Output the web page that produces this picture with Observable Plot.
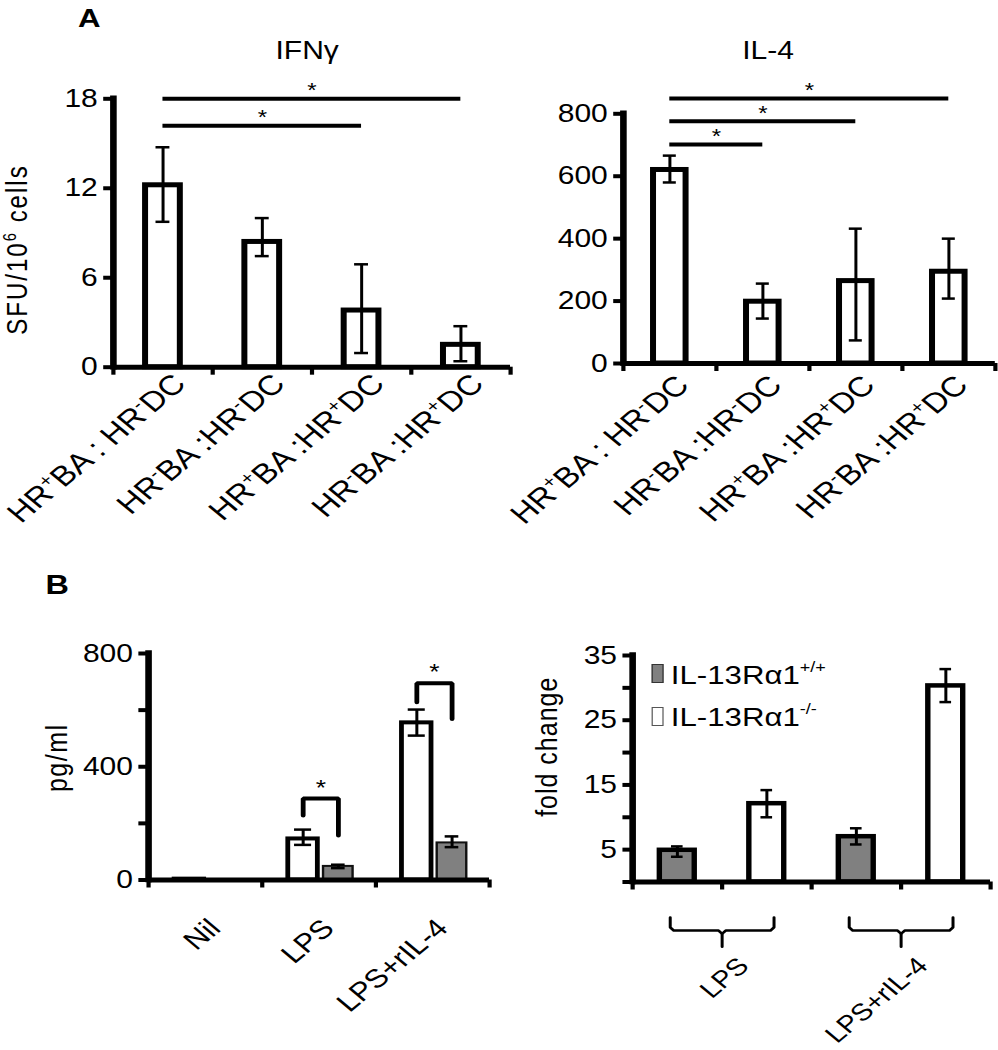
<!DOCTYPE html>
<html><head><meta charset="utf-8">
<script src="https://cdn.jsdelivr.net/npm/d3@7"></script>
<script src="https://cdn.jsdelivr.net/npm/@observablehq/plot@0.6"></script>
<style>
html,body{margin:0;padding:0;background:#fff;overflow:hidden;}
#wrap{position:relative;width:832px;height:1050px;transform:scaleX(1.2);transform-origin:0 0;font-family:'Liberation Sans',Arial,Helvetica,sans-serif;color:#000;}
.lbl{position:absolute;line-height:1;white-space:nowrap;}
.panel{position:absolute;}
.sw{position:absolute;box-sizing:border-box;}
</style></head><body><div id="wrap"></div>
<script>
// ---------- data ----------
// Panel A
const groupsA = ["HR⁺BA : HR⁻DC", "HR⁻BA :HR⁻DC", "HR⁺BA :HR⁺DC", "HR⁻BA :HR⁺DC"];
const ifngMean = [12.2, 8.4, 3.8, 1.5];
const ifngLow  = [9.75, 7.45, 0.95, 0.4];
const ifngHigh = [14.75, 10.0, 6.9, 2.75];
const ifngTicks = [0, 6, 12, 18];
const ifngSig = [{from: 0, to: 3, y: 18}, {from: 0, to: 2, y: 16.2}];

const il4Mean = [620, 198, 264, 294];
const il4Low  = [580, 144, 74, 208];
const il4High = [666, 256, 432, 400];
const il4Ticks = [0, 200, 400, 600, 800];
const il4Sig = [{from: 0, to: 3, y: 849}, {from: 0, to: 2, y: 776}, {from: 0, to: 1, y: 702}];

// Panel B (left): pg/ml
const groupsB = ["Nil", "LPS", "LPS+rIL-4"];
const koPg = [3, 145, 555];        // IL-13Rα1-/- (white)
const koPgLow = [null, 124, 510];
const koPgHigh = [null, 178, 602];
const wtPg = [0, 48, 131];         // IL-13Rα1+/+ (gray)
const wtPgLow = [null, 42, 116];
const wtPgHigh = [null, 54, 154];
const pgTicks = [0, 200, 400, 600, 800];
const pgLabeled = [0, 400, 800];
const pgBrackets = [
  {group: "LPS", top: 288, left: 228, right: 157},
  {group: "LPS+rIL-4", top: 695, left: 628, right: 569}
];

// Panel B (right): fold change
const groupsFold = ["LPS", "LPS+rIL-4"];
const wtFold = [4.9, 7.0];
const wtFoldLow = [3.9, 5.8];
const wtFoldHigh = [5.5, 8.3];
const koFold = [12.1, 30.3];
const koFoldLow = [10.0, 27.8];
const koFoldHigh = [14.2, 32.9];
const foldTicks = [0, 5, 10, 15, 20, 25, 30, 35];
const foldLabeled = [5, 15, 25, 35];
const legendLabels = ["IL-13Rα1<sup>+/+</sup>", "IL-13Rα1<sup>-/-</sup>"];

// ---------- helpers ----------
const FONT = "'Liberation Sans', Arial, Helvetica, sans-serif";
const GRAY = "#808080";
const wrap = document.getElementById("wrap");
const baseStyle = {background: "transparent", overflow: "visible", fontFamily: FONT, fontSize: "25px", color: "black"};
const SUPMAP = {"⁺": "+", "⁻": "-", "⁶": "6"};
const SPACED = {"SFU/10⁶ cells": 2, "pg/ml": 1.5, "fold change": 1};

function supify(root) {
  root.querySelectorAll("text").forEach(t => {
    const s = t.textContent;
    if (s in SPACED) t.style.letterSpacing = SPACED[s] + "px";
    if (![...s].some(c => c in SUPMAP)) return;
    const fs = parseFloat(getComputedStyle(t).fontSize) || 24;
    const segs = [];
    for (const c of s) {
      const sup = c in SUPMAP, ch = sup ? SUPMAP[c] : c;
      if (segs.length && segs[segs.length - 1].sup === sup) segs[segs.length - 1].t += ch;
      else segs.push({sup, t: ch});
    }
    t.textContent = "";
    let shifted = false;
    for (const seg of segs) {
      const ts = document.createElementNS("http://www.w3.org/2000/svg", "tspan");
      ts.textContent = seg.t;
      if (seg.sup) { ts.setAttribute("font-size", (fs * 0.62) + "px"); ts.setAttribute("dy", (-fs * 0.38) + "px"); shifted = true; }
      else if (shifted) { ts.setAttribute("dy", (fs * 0.38) + "px"); shifted = false; }
      t.appendChild(ts);
    }
  });
}
function place(svg, left, top, width) {
  const d = document.createElement("div");
  d.className = "panel";
  d.style.left = left + "px"; d.style.top = top + "px"; d.style.width = width + "px";
  d.appendChild(svg);
  wrap.appendChild(d);
  supify(svg);
}
function addText(html, {left, baseline, size, bold = false, center = false}) {
  const d = document.createElement("div");
  d.className = "lbl";
  d.innerHTML = html;
  d.style.fontSize = size + "px";
  d.style.top = (baseline - 0.8465 * size) + "px";
  d.style.left = left + "px";
  if (bold) d.style.fontWeight = "bold";
  if (center) d.style.transform = "translateX(-50%)";
  wrap.appendChild(d);
}
function axisMarks(n, yTicks, yFmt) {
  return [
    Plot.ruleY([0], {strokeWidth: 5}),
    Plot.ruleX([0], {strokeWidth: 5.5, strokeLinecap: "square"}),
    Plot.axisY({ticks: yTicks, tickFormat: yFmt, tickSize: 8, tickPadding: 5, strokeWidth: 4, fontSize: 25, label: null}),
    Plot.axisX({ticks: d3.range(n + 1), tickFormat: () => "", tickSize: 8, strokeWidth: 3.5, label: null})
  ];
}
function errMarks(rows, capHalf, sw) {
  const r = rows.filter(d => d.lo != null);
  return [
    Plot.ruleX(r, {x: "c", y1: "lo", y2: "hi", strokeWidth: sw}),
    Plot.ruleY(r, {y: "lo", x1: d => d.c - capHalf, x2: d => d.c + capHalf, strokeWidth: sw}),
    Plot.ruleY(r, {y: "hi", x1: d => d.c - capHalf, x2: d => d.c + capHalf, strokeWidth: sw})
  ];
}
function yLabel(label, dx, dy, fontSize = 25) {
  return Plot.text([label], {frameAnchor: "left", text: d => d, rotate: -90, textAnchor: "middle", lineAnchor: "middle", dx, dy, fontSize});
}

// ---------- single-series panels (A) ----------
function singlePanel(o) {
  const n = o.cats.length;
  const rows = o.cats.map((g, i) => ({g, c: i + 0.5, v: o.mean[i], lo: o.low[i], hi: o.high[i]}));
  const sig = o.sig.map(s => ({x1: s.from + 0.5, x2: s.to + 0.5, y: s.y}));
  return Plot.plot({
    width: o.width, height: o.height,
    marginLeft: o.mL, marginRight: o.mR, marginTop: o.mT, marginBottom: o.mB,
    x: {domain: [0, n]}, y: {domain: [0, d3.max(o.ticks)]},
    style: baseStyle,
    marks: [
      Plot.rect(rows, {x1: d => d.c - 0.175, x2: d => d.c + 0.175, y1: () => 0, y2: "v", fill: "white", stroke: "black", strokeWidth: 5}),
      ...errMarks(rows, 0.07, 2.5),
      ...axisMarks(n, o.ticks, d => d),
      Plot.text(o.cats, {x: (d, i) => i + 0.5, y: () => 0, text: d => d, rotate: -45, textAnchor: "end", dx: o.lblDx, dy: o.lblDy, fontSize: 28}),
      Plot.ruleY(sig, {y: "y", x1: "x1", x2: "x2", strokeWidth: 4}),
      Plot.text(sig, {x: d => (d.x1 + d.x2) / 2, y: "y", text: () => "*", dy: -8, fontSize: 20}),
      ...(o.ylabel ? [yLabel(o.ylabel, o.ylDx, o.ylDy, 24)] : [])
    ]
  });
}

const p1 = singlePanel({cats: groupsA, mean: ifngMean, low: ifngLow, high: ifngHigh, sig: ifngSig, ticks: ifngTicks,
  width: 440, height: 470, mL: 94, mR: 15, mT: 38.3, mB: 163.3, lblDx: 14, lblDy: 12,
  ylabel: "SFU/10⁶ cells", ylDx: -79.5, ylDy: 16.5});
place(p1, 0, 60, 440);

const p2 = singlePanel({cats: groupsA, mean: il4Mean, low: il4Low, high: il4High, sig: il4Sig, ticks: il4Ticks,
  width: 402, height: 470, mL: 89, mR: 3, mT: 53.3, mB: 167, lblDx: 11, lblDy: 17});
place(p2, 430, 60, 402);

// ---------- B left: grouped pg/ml ----------
{
  const n = groupsB.length;
  const OFF_KO = -0.14, OFF_WT = 0.17, HALF = 0.13;
  const ko = groupsB.map((g, i) => ({g, c: i + 0.5 + OFF_KO, v: koPg[i], lo: koPgLow[i], hi: koPgHigh[i]}));
  const wt = groupsB.map((g, i) => ({g, c: i + 0.5 + OFF_WT, v: wtPg[i], lo: wtPgLow[i], hi: wtPgHigh[i]}));
  const br = pgBrackets.flatMap(b => {
    const c = groupsB.indexOf(b.group) + 0.5, xl = c + OFF_KO, xr = c + OFF_WT;
    return [{k: b.group, x: xl, y: b.left}, {k: b.group, x: xl, y: b.top}, {k: b.group, x: xr, y: b.top}, {k: b.group, x: xr, y: b.right}];
  });
  const p3 = Plot.plot({
    width: 420, height: 450, marginLeft: 123.3, marginRight: 12.5, marginTop: 53, marginBottom: 170.5,
    x: {domain: [0, n]}, y: {domain: [0, 800]},
    style: baseStyle,
    marks: [
      Plot.rect(ko, {x1: d => d.c - HALF, x2: d => d.c + HALF, y1: () => 0, y2: "v", fill: "white", stroke: "black", strokeWidth: 4}),
      Plot.rect(wt, {x1: d => d.c - HALF, x2: d => d.c + HALF, y1: () => 0, y2: "v", fill: GRAY, stroke: "#111", strokeWidth: 2}),
      ...errMarks(ko, 0.075, 2.5),
      ...errMarks(wt, 0.06, 2.5),
      ...axisMarks(n, pgTicks, d => pgLabeled.includes(d) ? d : ""),
      Plot.line(br, {x: "x", y: "y", z: "k", strokeWidth: 4, strokeLinejoin: "miter"}),
      Plot.text(pgBrackets, {x: b => groupsB.indexOf(b.group) + 0.5 + (OFF_KO + OFF_WT) / 2, y: "top", text: () => "*", dy: -11, fontSize: 22}),
      Plot.text(groupsB, {x: (d, i) => i + 0.5, y: () => 0, text: d => d, rotate: -45, textAnchor: "end", dx: 8, dy: 44, fontSize: 26}),
      yLabel("pg/ml", -76, -9)
    ]
  });
  place(p3, 0, 600, 420);
}

// ---------- B right: fold change ----------
{
  const n = groupsFold.length * 2;
  const HALF = 0.195;
  const wt = groupsFold.map((g, i) => ({g, c: i * 2 + 0.5, v: wtFold[i], lo: wtFoldLow[i], hi: wtFoldHigh[i]}));
  const ko = groupsFold.map((g, i) => ({g, c: i * 2 + 1.5, v: koFold[i], lo: koFoldLow[i], hi: koFoldHigh[i]}));
  const braces = groupsFold.flatMap((g, i) => {
    const a = i * 2 + 0.5 - 0.08, b = i * 2 + 1.5 + 0.08, m = i * 2 + 1;
    const L = g + "L", R = g + "R";
    return [
      {k: L, x: a, y: -5.5}, {k: L, x: a, y: -7.0}, {k: L, x: a + 0.04, y: -7.5}, {k: L, x: m - 0.04, y: -7.5}, {k: L, x: m, y: -8.0}, {k: L, x: m, y: -10},
      {k: R, x: b, y: -5.5}, {k: R, x: b, y: -7.0}, {k: R, x: b - 0.04, y: -7.5}, {k: R, x: m + 0.04, y: -7.5}, {k: R, x: m, y: -8.0}
    ];
  });
  const p4 = Plot.plot({
    width: 412, height: 450, marginLeft: 106.7, marginRight: 7, marginTop: 55, marginBottom: 168.5,
    x: {domain: [0, n]}, y: {domain: [0, 35]},
    style: baseStyle,
    marks: [
      Plot.rect(wt, {x1: d => d.c - HALF, x2: d => d.c + HALF, y1: () => 0, y2: "v", fill: GRAY, stroke: "black", strokeWidth: 4.5}),
      Plot.rect(ko, {x1: d => d.c - HALF, x2: d => d.c + HALF, y1: () => 0, y2: "v", fill: "white", stroke: "black", strokeWidth: 4.5}),
      ...errMarks(wt, 0.065, 2.5),
      ...errMarks(ko, 0.065, 2.5),
      ...axisMarks(n, foldTicks, d => foldLabeled.includes(d) ? d : ""),
      Plot.line(braces, {x: "x", y: "y", z: "k", strokeWidth: 2.5}),
      Plot.text(groupsFold, {x: (d, i) => i * 2 + 1, y: () => 0, text: d => d, rotate: -45, textAnchor: "end", dx: 18, dy: 80, fontSize: 24}),
      yLabel("fold change", -71, -22)
    ]
  });
  place(p4, 420, 600, 412);
}

// ---------- titles, panel letters, legend ----------
addText("A", {left: 65, baseline: 27, size: 26, bold: true});
addText("B", {left: 38, baseline: 595, size: 27, bold: true});
addText("IFNγ", {left: 256, baseline: 59, size: 25, center: true});
addText("IL-4", {left: 640, baseline: 59, size: 25, center: true});

const legendFills = [GRAY, "white"];
const legendBorders = ["#333", "#555"];
legendLabels.forEach((lab, i) => {
  const base = 684 + i * 42.5;
  const sw = document.createElement("div");
  sw.className = "sw";
  sw.style.left = "543px"; sw.style.top = (base - 20) + "px";
  sw.style.width = "9.5px"; sw.style.height = "19px";
  sw.style.background = legendFills[i];
  sw.style.border = "1px solid " + legendBorders[i];
  wrap.appendChild(sw);
  addText(lab.replace("<sup>", "<span style=\"font-size:15px;position:relative;top:-12px\">").replace("</sup>", "</span>"),
    {left: 559, baseline: base, size: 26});
});
</script></body></html>
